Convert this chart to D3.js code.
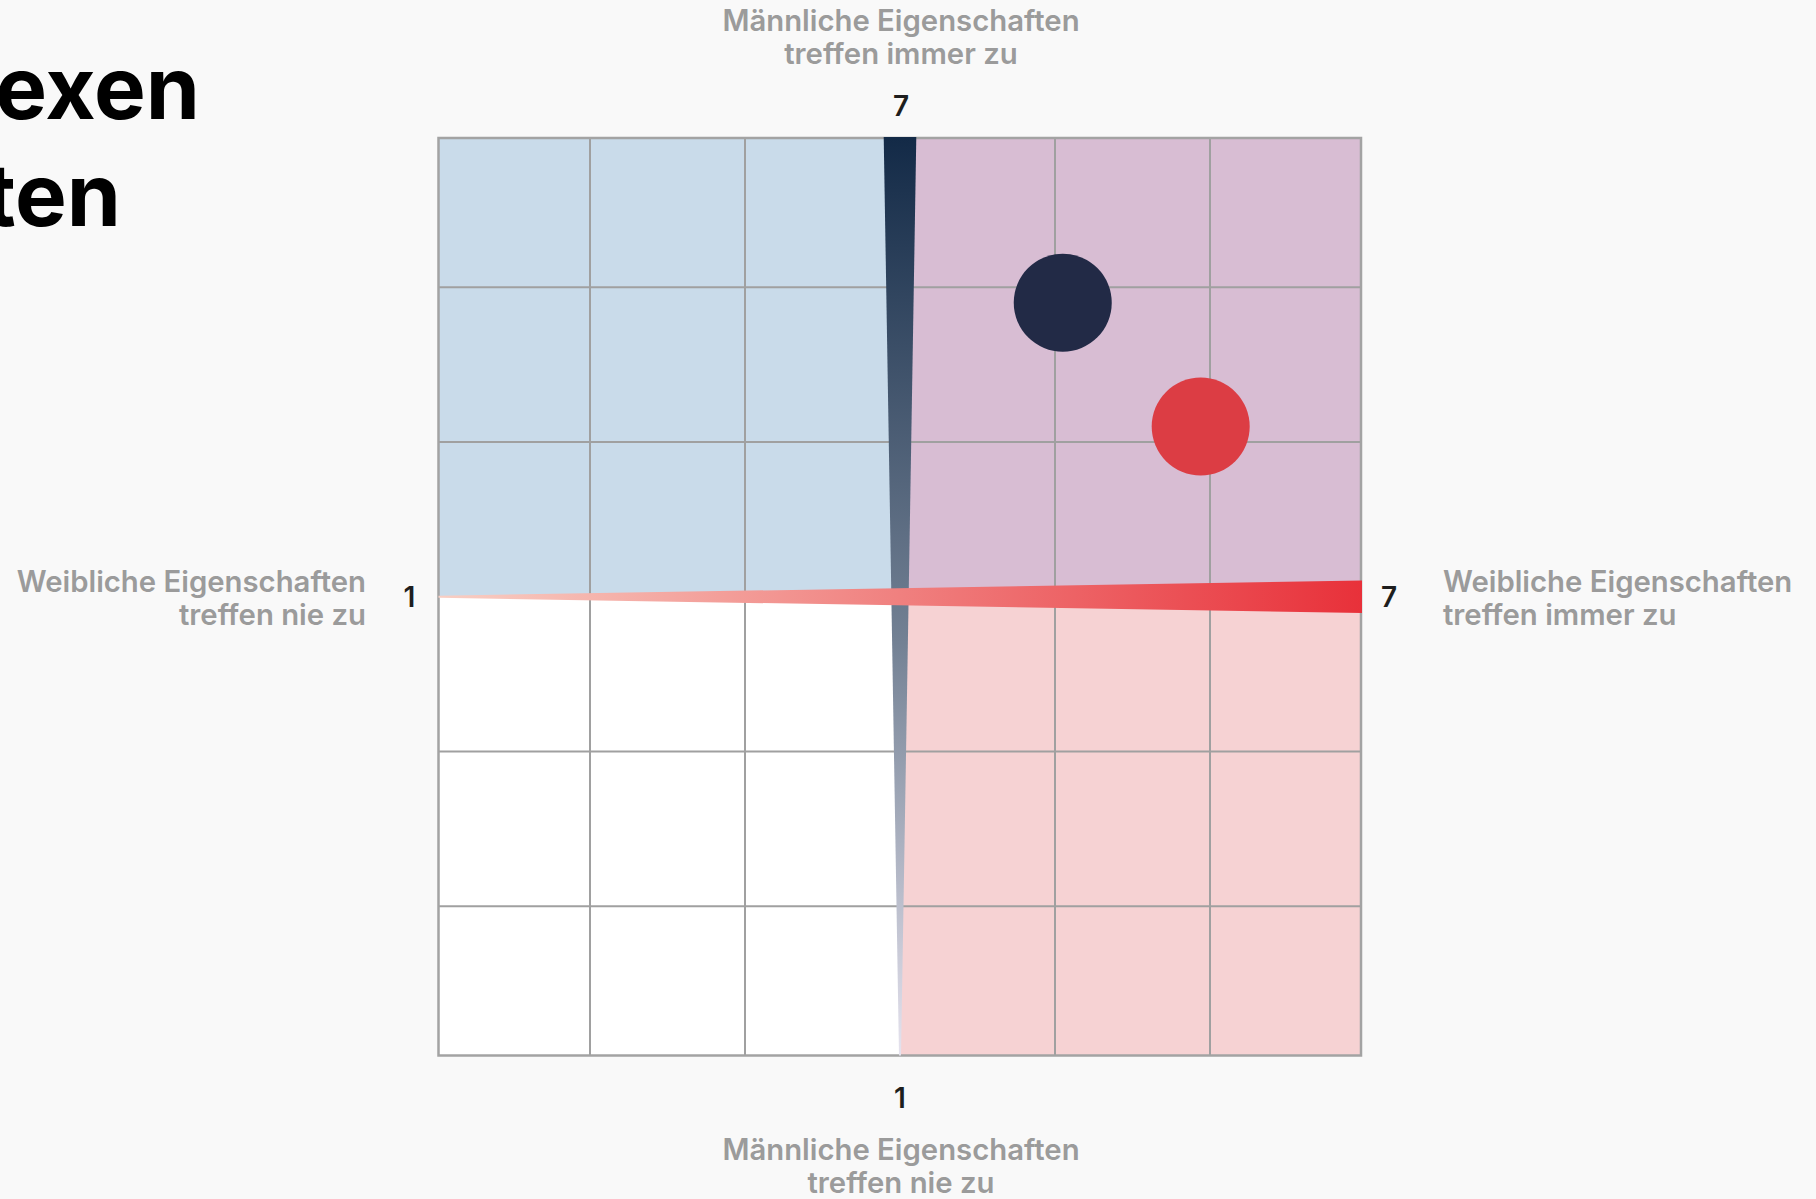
<!DOCTYPE html>
<html>
<head>
<meta charset="utf-8">
<script src="https://cdn.jsdelivr.net/npm/d3@7"></script>
<style>
  html, body { margin: 0; padding: 0; background: #f9f9f9; }
  svg { display: block; font-family: Inter, "Noto Sans", sans-serif; }
</style>
</head>
<body>
<svg id="chart" width="1816" height="1199"></svg>
<script>
// ---- data ----
const titleLines = ["exen", "ten"];
const groups = ["Gruppe 1", "Gruppe 2"];
const femaleScores = [5.05, 5.94];   // x: Weibliche Eigenschaften
const maleScores = [5.90, 5.10];     // y: Männliche Eigenschaften
const scaleDomain = [1, 7];
const gridValues = [2, 3, 5, 6];
const midValue = 4;
const xTickLabels = ["1", "7"];
const yTickLabels = ["1", "7"];
const topLabel = ["Männliche Eigenschaften", "treffen immer zu"];
const bottomLabel = ["Männliche Eigenschaften", "treffen nie zu"];
const leftLabel = ["Weibliche Eigenschaften", "treffen nie zu"];
const rightLabel = ["Weibliche Eigenschaften", "treffen immer zu"];

// ---- layout ----
const svg = d3.select("#chart");
const x = d3.scaleLinear().domain(scaleDomain).range([435, 1365]);
const y = d3.scaleLinear().domain(scaleDomain).range([1061, 132.5]);
// visible frame (slightly inset from the data extent)
const L = 438.5, R = 1361, T = 138, B = 1055.5;

svg.append("rect").attr("width", 1816).attr("height", 1199).attr("fill", "#f9f9f9");

// title (partly off-canvas)
const title = svg.append("g").attr("font-size", 87).attr("font-weight", 700).attr("fill", "#000")
  .attr("text-anchor", "end");
title.append("text").attr("x", 200).attr("y", 119).text(titleLines[0]);
title.append("text").attr("x", 121).attr("y", 226).text(titleLines[1]);

// quadrants
const quads = [
  { x0: 1, x1: 4, y0: 4, y1: 7, fill: "#c9dbea" },
  { x0: 4, x1: 7, y0: 4, y1: 7, fill: "#d8bdd3" },
  { x0: 1, x1: 4, y0: 1, y1: 4, fill: "#ffffff" },
  { x0: 4, x1: 7, y0: 1, y1: 4, fill: "#f6d2d3" }
];
const clip = svg.append("defs").append("clipPath").attr("id", "frame");
clip.append("rect").attr("x", L).attr("y", T).attr("width", R - L).attr("height", B - T);
const plot = svg.append("g").attr("clip-path", "url(#frame)");
plot.selectAll("rect").data(quads).join("rect")
  .attr("x", d => x(d.x0)).attr("y", d => y(d.y1))
  .attr("width", d => x(d.x1) - x(d.x0)).attr("height", d => y(d.y0) - y(d.y1))
  .attr("fill", d => d.fill);

// grid
const grid = plot.append("g").attr("stroke", "#a0a0a0").attr("stroke-width", 2);
grid.selectAll("line.v").data(gridValues).join("line").attr("class", "v")
  .attr("x1", d => x(d)).attr("x2", d => x(d)).attr("y1", T).attr("y2", B);
grid.selectAll("line.h").data(gridValues).join("line").attr("class", "h")
  .attr("y1", d => y(d)).attr("y2", d => y(d)).attr("x1", L).attr("x2", R);
svg.append("rect").attr("x", L).attr("y", T).attr("width", R - L).attr("height", B - T)
  .attr("fill", "none").attr("stroke", "#a3a3a3").attr("stroke-width", 2.5);

// gradients
const defs = svg.append("defs");
const gv = defs.append("linearGradient").attr("id", "gv")
  .attr("gradientUnits", "userSpaceOnUse").attr("x1", 0).attr("x2", 0).attr("y1", T).attr("y2", B);
gv.append("stop").attr("offset", "0%").attr("stop-color", "#132a47");
gv.append("stop").attr("offset", "55%").attr("stop-color", "#738194");
gv.append("stop").attr("offset", "100%").attr("stop-color", "#e6e3ee");
const gh = defs.append("linearGradient").attr("id", "gh")
  .attr("gradientUnits", "userSpaceOnUse").attr("x1", L).attr("x2", R).attr("y1", 0).attr("y2", 0);
gh.append("stop").attr("offset", "0%").attr("stop-color", "#f8cfc4");
gh.append("stop").attr("offset", "100%").attr("stop-color", "#e8313a");

const hw = 16.3;
const cx = x(midValue), cy = y(midValue);
// vertical wedge (Männliche Eigenschaften)
svg.append("path")
  .attr("d", `M${cx - hw},${T - 1} L${cx + hw},${T - 1} L${cx + 1},${B} L${cx - 1},${B} Z`)
  .attr("fill", "url(#gv)");
// horizontal wedge (Weibliche Eigenschaften)
svg.append("path")
  .attr("d", `M${L},${cy - 1} L${R + 1},${cy - hw} L${R + 1},${cy + hw} L${L},${cy + 1} Z`)
  .attr("fill", "url(#gh)");

// points
const pointColors = ["#222a46", "#dc3d44"];
svg.append("g").selectAll("circle").data(groups).join("circle")
  .attr("cx", (d, i) => x(femaleScores[i]))
  .attr("cy", (d, i) => y(maleScores[i]))
  .attr("r", 49)
  .attr("fill", (d, i) => pointColors[i]);

// tick labels
const tk = svg.append("g").attr("font-size", 28).attr("font-weight", 600).attr("fill", "#1e1e1e")
  .attr("text-anchor", "middle");
tk.append("text").attr("x", cx + 1).attr("y", T - 22).text(yTickLabels[1]);
tk.append("text").attr("x", cx).attr("y", B + 52).text(yTickLabels[0]);
tk.append("text").attr("x", L - 29).attr("y", cy + 10).text(xTickLabels[0]);
tk.append("text").attr("x", R + 28).attr("y", cy + 10).text(xTickLabels[1]);

// axis descriptions
const lab = svg.append("g").attr("font-size", 29.3).attr("font-weight", 600).attr("fill", "#9b9b9b");
function lines(ls, xp, y0, anchor) {
  ls.forEach((t, i) => lab.append("text").attr("x", xp).attr("y", y0 + i * 33)
    .attr("text-anchor", anchor).text(t));
}
lines(topLabel, cx + 1, 31, "middle");
lines(bottomLabel, cx + 1, 1160, "middle");
lines(leftLabel, 366, 592, "end");
lines(rightLabel, 1443, 592, "start");
</script>
</body>
</html>
